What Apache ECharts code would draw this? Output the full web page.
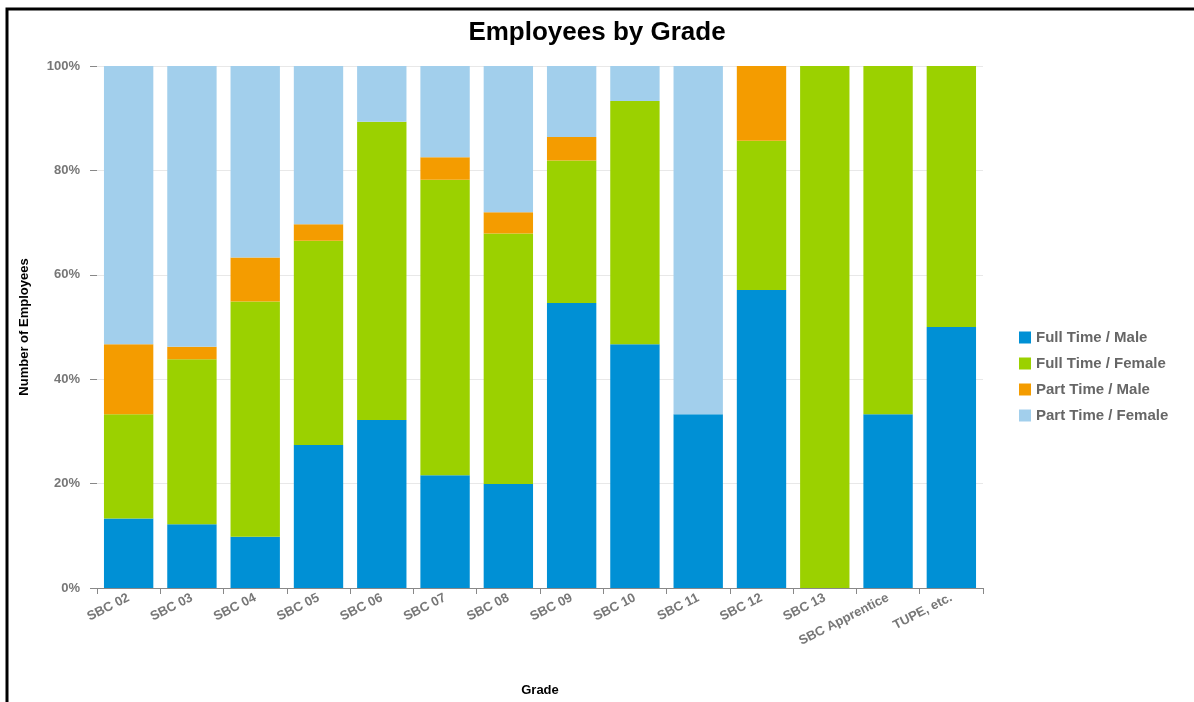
<!DOCTYPE html>
<html>
<head>
<meta charset="utf-8">
<script src="https://cdn.jsdelivr.net/npm/echarts@6/dist/echarts.min.js"></script>
<style>
html,body{margin:0;padding:0;background:#fff;overflow:hidden;}
#c{width:1194px;height:702px;}
</style>
</head>
<body>
<div id="c"></div>
<script>
var categories = ['SBC 02','SBC 03','SBC 04','SBC 05','SBC 06','SBC 07','SBC 08','SBC 09','SBC 10','SBC 11','SBC 12','SBC 13','SBC Apprentice','TUPE, etc.'];
var fullTimeMale   = [13.3, 12.2,  9.8, 27.4, 32.2, 21.6, 19.9, 54.6, 46.7, 33.3, 57.1,   0, 33.3, 50];
var fullTimeFemale = [20.0, 31.6, 45.1, 39.1, 57.1, 56.6, 48.0, 27.3, 46.6,    0, 28.6, 100, 66.7, 50];
var partTimeMale   = [13.4,  2.4,  8.4,  3.2,    0,  4.3,  4.1,  4.5,    0,    0, 14.3,   0,    0,  0];
var partTimeFemale = [53.3, 53.8, 36.7, 30.3, 10.7, 17.5, 28.0, 13.6,  6.7, 66.7,    0,   0,    0,  0];
var seriesNames = ['Full Time / Male','Full Time / Female','Part Time / Male','Part Time / Female'];
var seriesColors = ['#0090d5','#9bd100','#f49c00','#a2cfec'];
var yTicks = [0,20,40,60,80,100];

var font = '"Liberation Sans", Arial, sans-serif';
var chart = echarts.init(document.getElementById('c'), null, {renderer:'canvas', width:1194, height:702});
var dataSets = [fullTimeMale, fullTimeFemale, partTimeMale, partTimeFemale];
var series = dataSets.map(function(d, i){
  return {
    name: seriesNames[i], type: 'bar', stack: 'total', data: d,
    barCategoryGap: '22%',
    itemStyle: {color: seriesColors[i]},
    emphasis: {disabled: true}
  };
});
chart.setOption({
  animation: false,
  backgroundColor: '#fff',
  graphic: [{
    type: 'rect', shape: {x:7, y:9, width: 1200, height: 800},
    style: {fill: 'none', stroke: '#000', lineWidth: 3}, silent: true, z: 100
  }],
  title: {
    text: 'Employees by Grade', left: 'center', top: 15,
    textStyle: {fontFamily: font, fontSize: 26, fontWeight: 'bold', color: '#000'}
  },
  legend: {
    orient: 'vertical', left: 1014, top: 325,
    itemWidth: 12, itemHeight: 12, itemGap: 11,
    icon: 'rect',
    textStyle: {fontFamily: font, fontSize: 15, fontWeight: 'bold', color: '#666'},
    data: seriesNames
  },
  grid: {left: 97, right: 211, top: 66, bottom: 114, containLabel: false, outerBoundsMode: 'none'},
  xAxis: {
    type: 'category', data: categories,
    name: 'Grade', nameLocation: 'middle', nameGap: 96,
    nameTextStyle: {fontFamily: font, fontSize: 13, fontWeight: 'bold', color: '#000'},
    axisLine: {lineStyle: {color: '#888', width: 1}},
    axisTick: {show: true, alignWithLabel: false, length: 6, lineStyle: {color: '#888'}},
    axisLabel: {rotate: 27, interval: 0, margin: 9, fontFamily: font, fontSize: 13, fontWeight: 'bold', color: '#777'}
  },
  yAxis: {
    type: 'value', min: 0, max: 100, interval: 20,
    name: 'Number of Employees', nameLocation: 'middle', nameGap: 66,
    nameTextStyle: {fontFamily: font, fontSize: 13, fontWeight: 'bold', color: '#000'},
    axisLine: {show: false},
    axisTick: {show: true, length: 7, lineStyle: {color: '#888'}},
    axisLabel: {
      margin: 17, fontFamily: font, fontSize: 13, fontWeight: 'bold', color: '#777',
      formatter: function(v){ return yTicks.indexOf(v) >= 0 ? v + '%' : ''; }
    },
    splitLine: {show: true, lineStyle: {color: '#e8e8e8', width: 1}}
  },
  series: series
});
</script>
</body>
</html>
